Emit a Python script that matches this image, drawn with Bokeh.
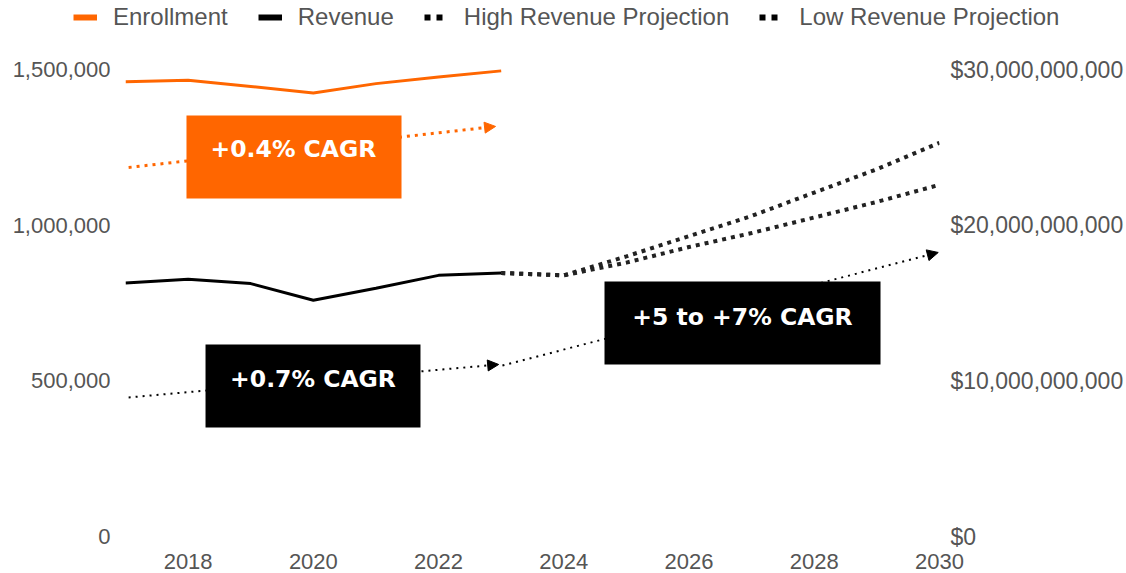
from bokeh.plotting import figure
from bokeh.layouts import column
from bokeh.models import (Range1d, LinearAxis, FixedTicker, NumeralTickFormatter, Legend, LegendItem,
                          BoxAnnotation, Label, Arrow, NormalHead, BasicTickFormatter)
from bokeh.embed import file_html
from bokeh.resources import INLINE

# ---------------- data ----------------
years = [2017, 2018, 2019, 2020, 2021, 2022, 2023]
enrollment = [1461000, 1466000, 1446000, 1425000, 1455000, 1476000, 1496000]
revenue = [16.29e9, 16.53e9, 16.25e9, 15.18e9, 15.95e9, 16.78e9, 16.93e9]

proj_years = [2023, 2024, 2025, 2026, 2027, 2028, 2029, 2030]
high_proj = [16.93e9, 16.78e9, 18.0e9, 19.3e9, 20.6e9, 22.1e9, 23.6e9, 25.3e9]
low_proj = [16.93e9, 16.78e9, 17.6e9, 18.6e9, 19.5e9, 20.5e9, 21.5e9, 22.6e9]

x_ticks = [2018, 2020, 2022, 2024, 2026, 2028, 2030]
enroll_ticks = [0, 500000, 1000000, 1500000]
revenue_ticks = [0, 10e9, 20e9, 30e9]

series_labels = ["Enrollment", "Revenue", "High Revenue Projection", "Low Revenue Projection"]
cagr_labels = ["+0.4% CAGR", "+0.7% CAGR", "+5 to +7% CAGR"]

ORANGE = "#FF6600"
BLACK = "#000000"
DOT = "#222222"
GRAY = "#555555"
AX_FONT = "Liberation Sans"

LEG_H = 38
W, H = 1126, 573

# ---------------- main figure ----------------
p = figure(width=W, height=H - LEG_H,
           x_range=Range1d(2017, 2030), y_range=Range1d(0, 1.6e6),
           output_backend="svg", toolbar_location=None,
           min_border_left=125, min_border_right=187,
           min_border_top=0, min_border_bottom=37)
p.extra_y_ranges = {"rev": Range1d(0, 32e9)}
p.add_layout(LinearAxis(y_range_name="rev"), "right")

p.xgrid.visible = False
p.ygrid.visible = False
p.outline_line_color = None
p.background_fill_color = "white"
p.border_fill_color = "white"

for ax in p.axis:
    ax.axis_line_color = None
    ax.major_tick_line_color = None
    ax.minor_tick_line_color = None
    ax.major_tick_out = 0
    ax.major_tick_in = 0
    ax.major_label_text_font = AX_FONT
    ax.major_label_text_font_size = "22px"
    ax.major_label_text_color = GRAY

p.xaxis.ticker = FixedTicker(ticks=x_ticks)
p.xaxis.formatter = BasicTickFormatter(use_scientific=False)
p.xaxis.major_label_standoff = 17

p.yaxis[0].ticker = FixedTicker(ticks=enroll_ticks)
p.yaxis[0].formatter = NumeralTickFormatter(format="0,0")
p.yaxis[0].major_label_standoff = 15

p.yaxis[1].ticker = FixedTicker(ticks=revenue_ticks)
p.yaxis[1].formatter = NumeralTickFormatter(format="$0,0")
p.yaxis[1].major_label_standoff = 11
p.yaxis[1].major_label_text_font_size = "23px"

# ---------------- annotations: arrows behind boxes ----------------
def arrow(x0, y0, x1, y1, color, width, dash):
    p.add_layout(Arrow(x_start=x0, y_start=y0, x_end=x1, y_end=y1,
                       line_color=color, line_width=width, line_dash=dash,
                       end=NormalHead(size=11, fill_color=color, line_color=color, line_width=1)))

arrow(2017.05, 1185700, 2022.91, 1317500, ORANGE, 3, "3 5")
arrow(2017.05, 446700, 2022.96, 552700, BLACK, 2, "2 5")
arrow(2023.02, 549500, 2029.98, 912600, BLACK, 2, "2 5")

# ---------------- data lines ----------------
p.line(years, enrollment, line_color=ORANGE, line_width=3)
p.line(years, revenue, line_color=BLACK, line_width=3, y_range_name="rev")
p.line(proj_years, high_proj, line_color=DOT, line_width=4, line_dash="4 5", y_range_name="rev")
p.line(proj_years, low_proj, line_color=DOT, line_width=4, line_dash="4 5", y_range_name="rev")

# ---------------- boxes and labels ----------------
boxes = [
    (2017.974, 2021.408, 1352800, 1086100, ORANGE, 2019.683, 1243600),
    (2018.278, 2021.711, 617000, 350300, BLACK, 2019.995, 504500),
    (2024.650, 2029.058, 819400, 552700, BLACK, 2026.854, 703700),
]
for (l, r, t, b, c, tx, ty), txt in zip(boxes, cagr_labels):
    p.add_layout(BoxAnnotation(left=l, right=r, top=t, bottom=b,
                               fill_color=c, fill_alpha=1.0, line_color=None))
    p.add_layout(Label(x=tx, y=ty, text=txt, text_font="DejaVu Sans", text_font_style="bold",
                       text_font_size="23.5px", text_color="white",
                       text_align="center", text_baseline="middle"))

# ---------------- legend strip (own figure, so it is not clipped) ----------------
lg = figure(width=W, height=LEG_H, x_range=Range1d(0, 1), y_range=Range1d(0, 1),
            output_backend="svg", toolbar_location=None,
            x_axis_type=None, y_axis_type=None,
            min_border_left=0, min_border_right=0, min_border_top=0, min_border_bottom=0)
lg.frame_align = False
lg.xgrid.visible = False
lg.ygrid.visible = False
lg.outline_line_color = None

# legend-only swatches (their single point lies outside the visible range)
off = [-5.0]
leg_enr = lg.line(off, off, line_color=ORANGE, line_width=6)
leg_rev = lg.line(off, off, line_color=BLACK, line_width=6)
leg_high = lg.line(off, off, line_color=BLACK, line_width=6, line_dash="6 6")
leg_low = lg.line(off, off, line_color=BLACK, line_width=6, line_dash="6 6")

legend = Legend(items=[LegendItem(label=lab, renderers=[r]) for lab, r in
                       zip(series_labels, [leg_enr, leg_rev, leg_high, leg_low])],
                orientation="horizontal", location=(73, 7),
                glyph_width=24, glyph_height=20, label_standoff=16, spacing=30,
                padding=0, margin=0, border_line_color=None, background_fill_alpha=0,
                label_text_font=AX_FONT, label_text_font_size="24px",
                label_text_color=GRAY)
lg.add_layout(legend)

layout = column(lg, p, spacing=0)
open("out.html", "w").write(file_html(layout, INLINE))
